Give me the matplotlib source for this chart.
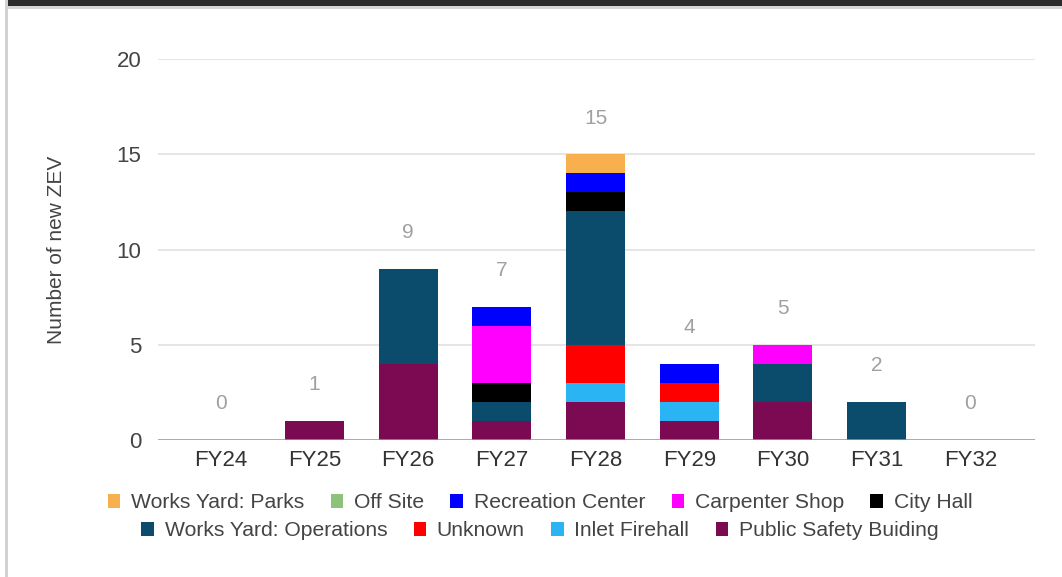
import numpy as np
import matplotlib.pyplot as plt
from matplotlib.patches import Patch, Rectangle

plt.rcParams['font.family'] = ['Liberation Sans', 'DejaVu Sans']

years = ['FY24', 'FY25', 'FY26', 'FY27', 'FY28', 'FY29', 'FY30', 'FY31', 'FY32']

# stacked bottom to top
public_safety = [0, 1, 4, 1, 2, 1, 2, 0, 0]
inlet_firehall = [0, 0, 0, 0, 1, 1, 0, 0, 0]
unknown = [0, 0, 0, 0, 2, 1, 0, 0, 0]
works_ops = [0, 0, 5, 1, 7, 0, 2, 2, 0]
city_hall = [0, 0, 0, 1, 1, 0, 0, 0, 0]
carpenter = [0, 0, 0, 3, 0, 0, 1, 0, 0]
recreation = [0, 0, 0, 1, 1, 1, 0, 0, 0]
off_site = [0, 0, 0, 0, 0, 0, 0, 0, 0]
works_parks = [0, 0, 0, 0, 1, 0, 0, 0, 0]

series = [
    ('Public Safety Buiding', public_safety, '#7b0a52'),
    ('Inlet Firehall', inlet_firehall, '#2ab4f4'),
    ('Unknown', unknown, '#ff0000'),
    ('Works Yard: Operations', works_ops, '#0b4b6b'),
    ('City Hall', city_hall, '#000000'),
    ('Carpenter Shop', carpenter, '#ff00ff'),
    ('Recreation Center', recreation, '#0000ff'),
    ('Off Site', off_site, '#8dc27a'),
    ('Works Yard: Parks', works_parks, '#f8b04f'),
]

W, H = 1062, 577
fig = plt.figure(figsize=(W / 100, H / 100), dpi=100)
fig.patch.set_facecolor('white')

# page frame: dark strip on top, grey edge on the left
def px_rect(x0, y0, x1, y1, color):
    fig.add_artist(Rectangle((x0 / W, 1 - y1 / H), (x1 - x0) / W, (y1 - y0) / H,
                             transform=fig.transFigure, color=color, lw=0, zorder=10))

px_rect(8, 0, W, 6, '#2c2c2c')
px_rect(8, 6, W, 9, '#d6d6d6')
px_rect(5, 0, 8, H, '#d2d2d2')

ax = fig.add_axes([158 / W, 1 - 440 / H, (1035 - 158) / W, (440 - 59) / H])

x = np.arange(len(years))
bottom = np.zeros(len(years))
for name, vals, color in series:
    vals = np.array(vals, dtype=float)
    ax.bar(x, vals, 0.63, bottom=bottom, color=color, label=name, zorder=3)
    bottom += vals

for xi, total in zip(x, bottom):
    ax.annotate(f'{int(total)}', (xi, total), xytext=(0, 26), textcoords='offset points',
                ha='center', va='center', fontsize=15, color='#a0a0a0')

ax.set_xlim(-0.67, 8.69)
ax.set_ylim(0, 20)
ax.set_yticks([0, 5, 10, 15, 20])
ax.grid(axis='y', color='#dedede', lw=1.1, zorder=0)
ax.axhline(0, color='#9a9a9a', lw=1.8, zorder=4)
for s in ax.spines.values():
    s.set_visible(False)
ax.tick_params(length=0, labelsize=16, colors='#444444')
ax.tick_params(axis='y', pad=12)
ax.tick_params(axis='x', pad=7)
ax.set_xticks(x)
ax.set_xticklabels(years)
for lbl in ax.get_xticklabels():
    lbl.set_color('#333333')

fig.text(57 / W, 1 - 250 / H, 'Number of new ZEV', rotation=90, ha='center', va='center',
         fontsize=15, color='#444444')

colors = {name: color for name, _, color in series}
row1 = ['Works Yard: Parks', 'Off Site', 'Recreation Center', 'Carpenter Shop', 'City Hall']
row2 = ['Works Yard: Operations', 'Unknown', 'Inlet Firehall', 'Public Safety Buiding']

leg_kw = dict(frameon=False, fontsize=15.2, handlelength=0.6, handleheight=0.6,
              handletextpad=0.5, columnspacing=1.25, borderpad=0, borderaxespad=0)
for row, ypos in ((row1, 503), (row2, 531)):
    handles = [Patch(facecolor=colors[n], edgecolor='none') for n in row]
    leg = fig.legend(handles, row, loc='center', ncol=len(row),
                     bbox_to_anchor=(540 / W, 1 - ypos / H), **leg_kw)
    for t in leg.get_texts():
        t.set_color('#444444')

fig.savefig('out.png', dpi=100)
